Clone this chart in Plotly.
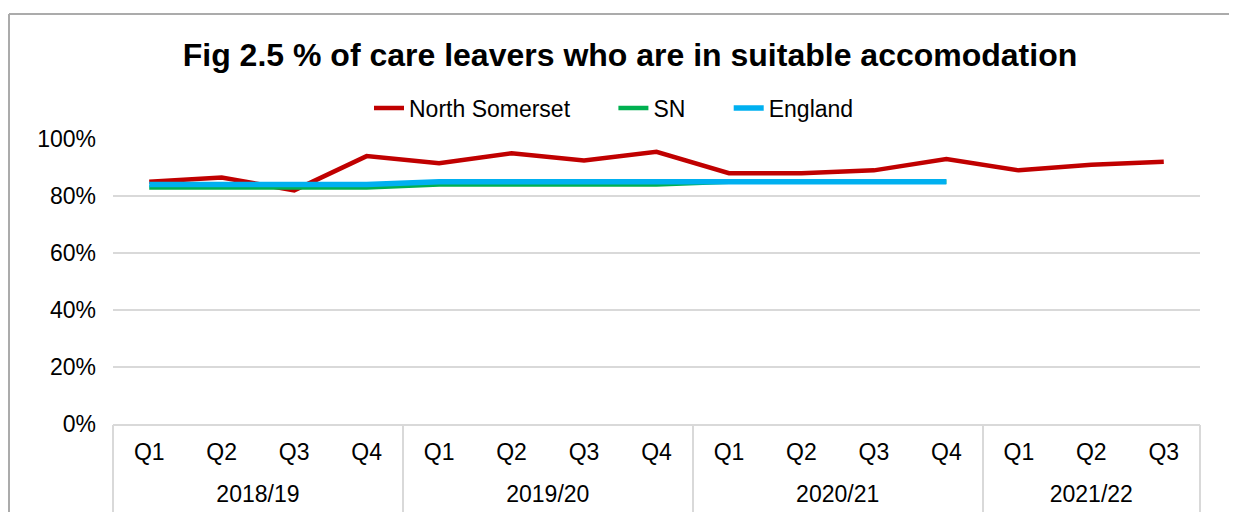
import plotly.graph_objects as go

years = ["2018/19"] * 4 + ["2019/20"] * 4 + ["2020/21"] * 4 + ["2021/22"] * 3
quarters = ["Q1", "Q2", "Q3", "Q4"] * 3 + ["Q1", "Q2", "Q3"]

north_somerset = [85, 86.5, 82, 94, 91.5, 95, 92.5, 95.5, 88, 88, 89, 93, 89, 91, 92]
sn = [83, 83, 83, 83, 84, 84, 84, 84, 85, 85, 85, 85, None, None, None]
england = [84, 84, 84, 84, 85, 85, 85, 85, 85, 85, 85, 85, None, None, None]

series_names = ["North Somerset", "SN", "England"]

y_ticks = [0, 20, 40, 60, 80, 100]
y_ticktext = [f"{v}%" for v in y_ticks]

# x positions derived from the category lists
xpos = list(range(len(quarters)))
year_names = []
for y in years:
    if y not in year_names:
        year_names.append(y)
year_centers = []
boundaries = [-0.5]
for yn in year_names:
    idx = [i for i, y in enumerate(years) if y == yn]
    year_centers.append((idx[0] + idx[-1]) / 2)
    boundaries.append(idx[-1] + 0.5)
xrange = [-0.5, len(quarters) - 0.5]

OFF = 8  # page body margin
W, H = 1237 - OFF, 512 - OFF
L, R, T, B = 113 - OFF, 37, 139 - OFF, 88
FONT = "Liberation Sans, Arial, sans-serif"
PAD = "\u00a0" * 6  # extra legend spacing between entries

fig = go.Figure()
fig.add_trace(go.Scatter(x=xpos, y=north_somerset, name=series_names[0] + PAD,
                         mode="lines", line=dict(color="#C00000", width=4.5)))
fig.add_trace(go.Scatter(x=xpos, y=sn, name=series_names[1] + PAD,
                         mode="lines", line=dict(color="#00B050", width=4.5)))
fig.add_trace(go.Scatter(x=xpos, y=england, name=series_names[2],
                         mode="lines", line=dict(color="#00B0F0", width=5.5)))

pw = W - L - R
ph = H - T - B
def px_x(px):
    return (px - OFF - L) / pw
def px_y(py):
    return (H - B - (py - OFF)) / ph

# outer chart frame (cropped)
fig.add_shape(type="line", xref="paper", yref="paper",
              x0=px_x(9), x1=px_x(1260), y0=px_y(14), y1=px_y(14),
              line=dict(color="#ababab", width=2))
fig.add_shape(type="line", xref="paper", yref="paper",
              x0=px_x(9), x1=px_x(9), y0=px_y(14), y1=px_y(530),
              line=dict(color="#ababab", width=2))

fig.update_layout(
    width=W, height=H,
    margin=dict(l=L, r=R, t=T, b=B, autoexpand=False),
    paper_bgcolor="white", plot_bgcolor="white",
    font=dict(family=FONT, size=23, color="#000000"),
    title=dict(text="<b>Fig 2.5 % of care leavers who are in suitable accomodation</b>",
               x=(630 - OFF) / W, xanchor="center", xref="container",
               y=1 - (55 - OFF) / H, yanchor="middle", yref="container",
               font=dict(family=FONT, size=32, color="#000000")),
    legend=dict(orientation="h", x=px_x(614), xanchor="center",
                y=px_y(108), yanchor="middle",
                font=dict(family=FONT, size=23, color="#000000"),
                bgcolor="rgba(0,0,0,0)"),
    showlegend=True,
    yaxis=dict(range=[0, 100], tickvals=y_ticks, ticktext=y_ticktext,
               showgrid=True, gridcolor="#d9d9d9", gridwidth=1.5,
               zeroline=False, showline=False, ticks="",
               ticklabelstandoff=16,
               tickfont=dict(family=FONT, size=23, color="#000000"),
               fixedrange=True),
    xaxis=dict(range=xrange, tickvals=xpos, ticktext=quarters,
               showline=True, linecolor="#d9d9d9", linewidth=1.5,
               showgrid=False, zeroline=False, ticks="",
               ticklabelstandoff=7,
               tickfont=dict(family=FONT, size=23, color="#000000"),
               fixedrange=True),
    xaxis2=dict(range=xrange, overlaying="x", anchor="y", side="bottom",
                tickvals=year_centers, ticktext=year_names,
                showline=False, showgrid=False, zeroline=False, ticks="",
                ticklabelstandoff=54,
                tickfont=dict(family=FONT, size=23, color="#000000"),
                fixedrange=True),
    xaxis3=dict(range=xrange, overlaying="x", anchor="y", side="bottom",
                tickvals=boundaries, showticklabels=False,
                showline=False, showgrid=False, zeroline=False,
                ticks="outside", ticklen=95, tickwidth=1.5, tickcolor="#d9d9d9",
                fixedrange=True),
)

# invisible traces to activate the overlay axes
fig.add_trace(go.Scatter(x=[xpos[0]], y=[None], xaxis="x2", showlegend=False, hoverinfo="skip"))
fig.add_trace(go.Scatter(x=[xpos[0]], y=[None], xaxis="x3", showlegend=False, hoverinfo="skip"))

fig.write_html("out.html")
